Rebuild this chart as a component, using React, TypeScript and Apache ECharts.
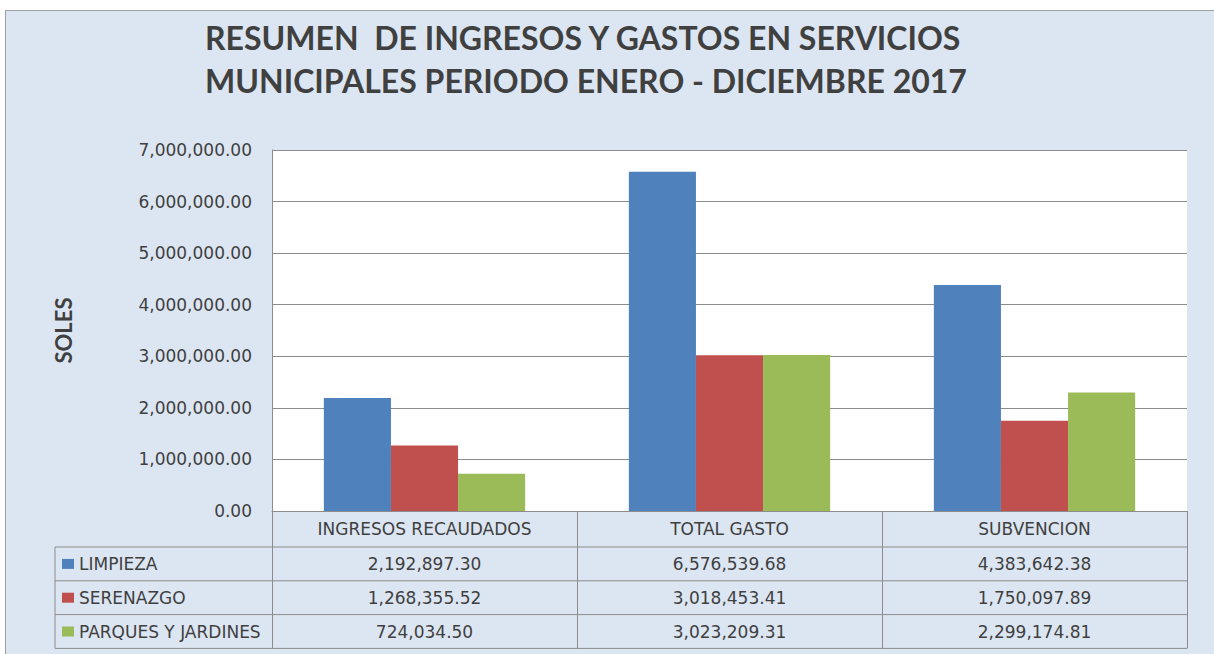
import React, { useEffect, useRef } from "react";
import * as echarts from "echarts";

const titleLines = [
  "RESUMEN  DE INGRESOS Y GASTOS EN SERVICIOS",
  "MUNICIPALES PERIODO ENERO - DICIEMBRE 2017",
];
const categories = ["INGRESOS RECAUDADOS", "TOTAL GASTO", "SUBVENCION"];
const seriesNames = ["LIMPIEZA", "SERENAZGO", "PARQUES Y JARDINES"];
const limpieza = [2192897.3, 6576539.68, 4383642.38];
const serenazgo = [1268355.52, 3018453.41, 1750097.89];
const parques = [724034.5, 3023209.31, 2299174.81];
const seriesValues = [limpieza, serenazgo, parques];
const colors = ["#4f81bd", "#c0504d", "#9bbb59"];
const yAxisName = "SOLES";

const fmt = (v: number) =>
  v.toLocaleString("en-US", { minimumFractionDigits: 2, maximumFractionDigits: 2 });

export default function App() {
  const ref = useRef<HTMLDivElement>(null);
  useEffect(() => {
    if (!ref.current) return;
    const chart = echarts.init(ref.current, null, { renderer: "svg" });
    const gridLeft = 272;
    const gridRight = 27;
    const gridTop = 150;
    const H = 654;
    const axisY = 511;
    const gridBottom = H - axisY;
    const headerH = 36;
    const rowH = 33.8;
    const tableBottom = axisY + headerH + rowH * 3;
    const lineColor = "#8c8c8c";
    const textColor = "#3f3f3f";
    const font = "DejaVu Sans, sans-serif";
    const fs = 17;

    chart.setOption({
      animation: false,
      backgroundColor: "transparent",
      title: {
        text: titleLines.join("\n"),
        left: 200,
        top: 11,
        textStyle: {
          fontFamily: "Lato, sans-serif",
          fontWeight: "bold",
          fontSize: 32,
          lineHeight: 43,
          color: "#404040",
        },
      },
      legend: seriesNames.map((n, i) => ({
        orient: "vertical",
        left: 62,
        top: axisY + headerH + rowH * i + rowH / 2 - 10,
        padding: 0,
        itemWidth: 12,
        itemHeight: 10,
        icon: "rect",
        data: [n],
        textStyle: { fontFamily: font, fontSize: fs, lineHeight: 20, color: textColor, padding: [0, 0, 0, 0] },
      })),
      grid: {
        left: gridLeft,
        right: gridRight,
        top: gridTop,
        bottom: gridBottom,
        show: true,
        backgroundColor: "#ffffff",
        borderWidth: 0,
      },
      xAxis: {
        type: "category",
        data: categories,
        axisLine: { show: true, lineStyle: { color: lineColor } },
        axisTick: { show: true, length: tableBottom - axisY, lineStyle: { color: lineColor } },
        axisLabel: { margin: 9, fontFamily: font, fontSize: fs, color: textColor },
      },
      yAxis: {
        type: "value",
        min: 0,
        max: 7000000,
        interval: 1000000,
        name: yAxisName,
        nameLocation: "middle",
        nameGap: 198,
        nameRotate: 90,
        nameTextStyle: { fontFamily: "Lato, sans-serif", fontWeight: "bold", fontSize: 22, color: textColor },
        axisLine: { show: true, lineStyle: { color: lineColor } },
        axisTick: { show: false },
        axisLabel: { formatter: (v: number) => fmt(v), fontFamily: font, fontSize: fs, color: textColor, margin: 20 },
        splitLine: { lineStyle: { color: lineColor, width: 1 } },
      },
      series: seriesNames.map((n, i) => ({
        name: n,
        type: "bar",
        data: seriesValues[i],
        barGap: "0%",
        barCategoryGap: "34%",
        itemStyle: { color: colors[i] },
      })),
    });

    const graphics: any[] = [];
    const rowLines = [axisY + headerH, axisY + headerH + rowH, axisY + headerH + rowH * 2, tableBottom];
    rowLines.forEach((y) => {
      graphics.push({
        type: "line",
        shape: { x1: 55, y1: y, x2: 1214 - gridRight, y2: y },
        style: { stroke: lineColor, lineWidth: 1 },
        silent: true,
      });
    });
    graphics.push({
      type: "line",
      shape: { x1: 55, y1: axisY + headerH, x2: 55, y2: tableBottom },
      style: { stroke: lineColor, lineWidth: 1 },
      silent: true,
    });
    categories.forEach((c, ci) => {
      const x = chart.convertToPixel({ xAxisIndex: 0 }, c) as number;
      seriesValues.forEach((vals, si) => {
        graphics.push({
          type: "text",
          x,
          y: axisY + headerH + rowH * si + rowH / 2,
          style: {
            text: fmt(vals[ci]),
            fontFamily: font,
            fontSize: fs,
            fill: textColor,
            align: "center",
            verticalAlign: "middle",
          },
          silent: true,
        });
      });
    });
    chart.setOption({ graphic: graphics });
    return () => chart.dispose();
  }, []);

  return (
    <div
      style={{
        position: "fixed",
        left: 0,
        top: 0,
        width: 1214,
        height: 654,
        background: "#ffffff",
      }}
    >
      <div
        style={{
          position: "absolute",
          left: 5,
          top: 10,
          right: 0,
          bottom: 0,
          background: "#dce6f2",
          borderTop: "1px solid #a0a0a0",
          borderLeft: "1px solid #a0a0a0",
        }}
      />
      <div ref={ref} style={{ position: "absolute", left: 0, top: 0, width: 1214, height: 654 }} />
    </div>
  );
}
